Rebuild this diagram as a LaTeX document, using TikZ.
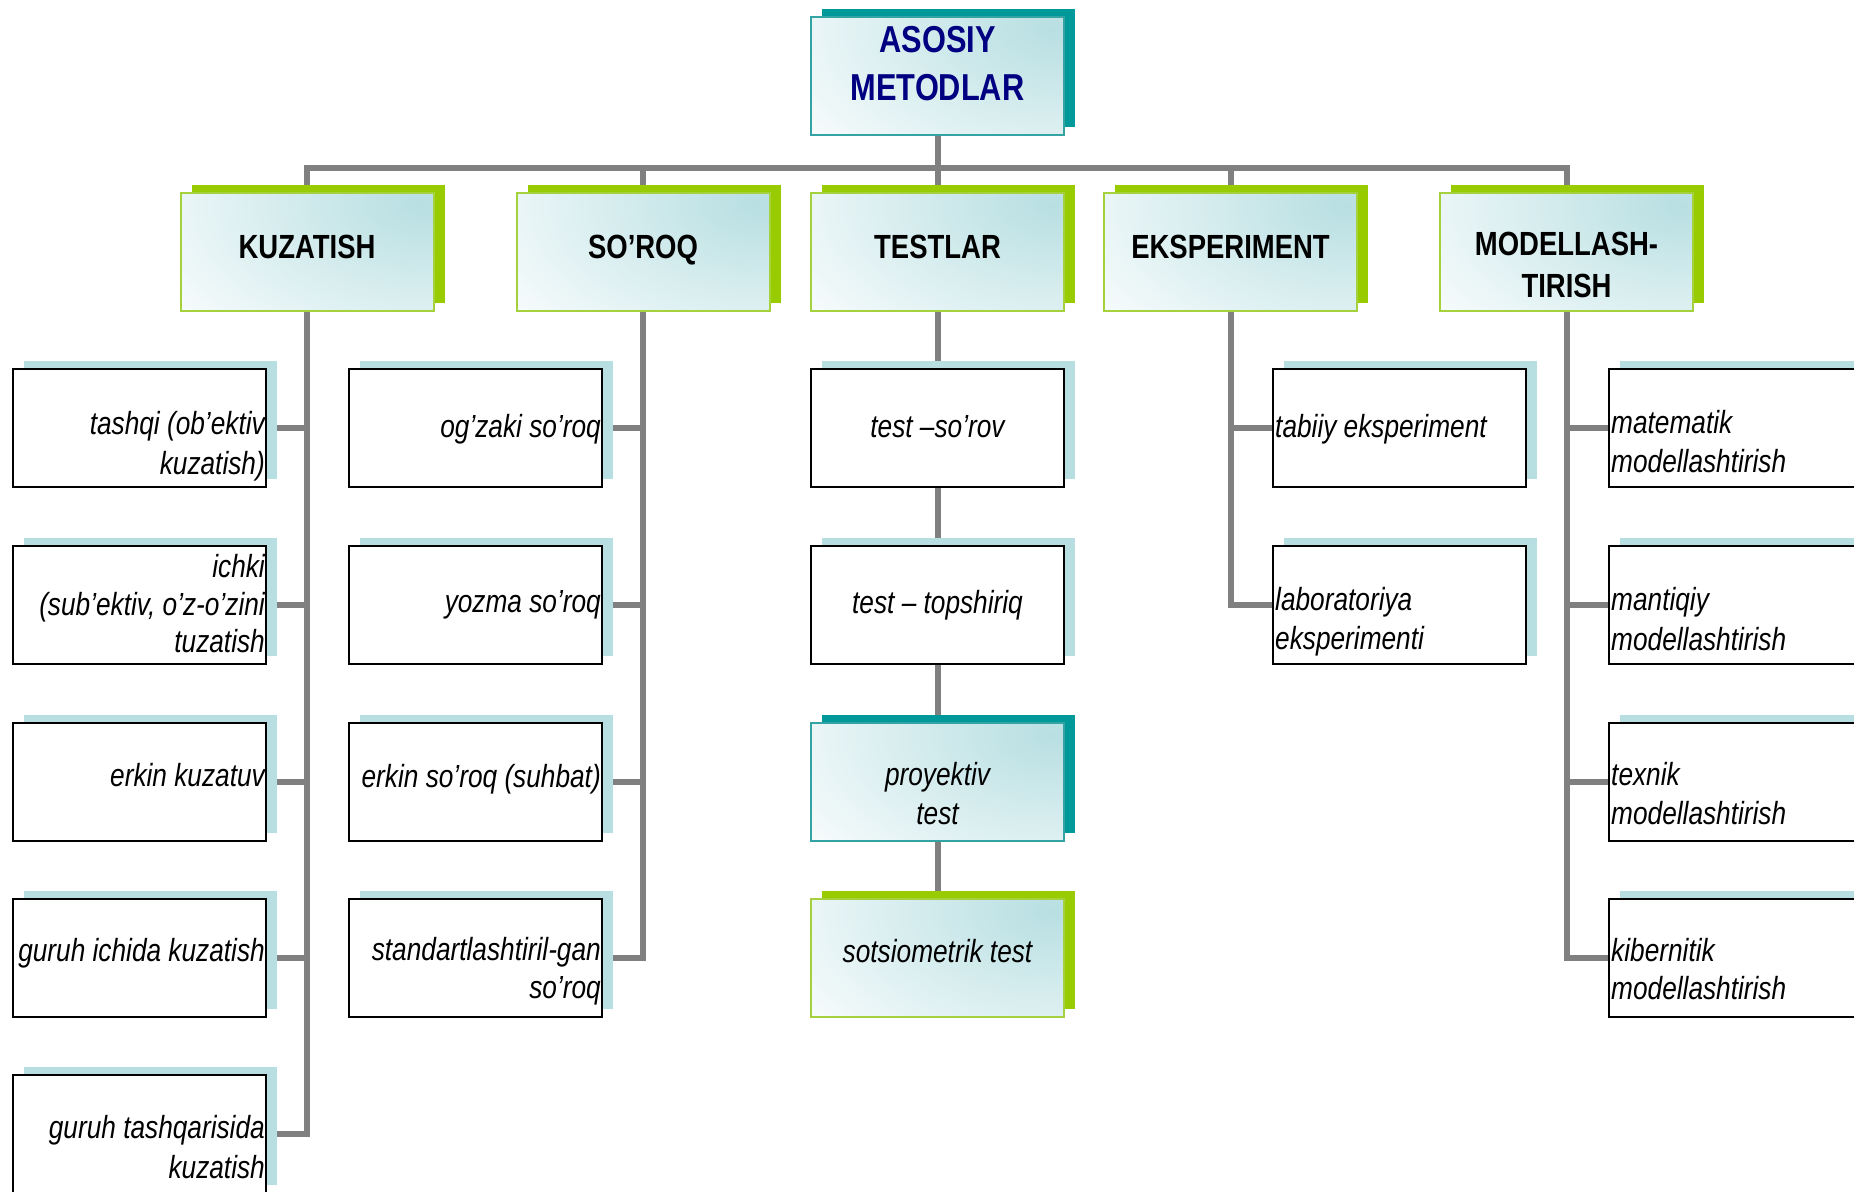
\documentclass[tikz,border=0pt]{standalone}
\usepackage{fontspec}
\setmainfont{Liberation Sans}[FakeStretch=0.82]
\usetikzlibrary{calc}
\definecolor{conn}{RGB}{128,128,128}
\definecolor{shteal}{RGB}{0,153,153}
\definecolor{shgreen}{RGB}{153,204,0}
\definecolor{shlight}{RGB}{183,222,224}
\definecolor{gradc}{RGB}{184,223,226}
\definecolor{bgreen}{RGB}{165,210,60}
\definecolor{bteal}{RGB}{51,163,163}
\definecolor{rootblue}{RGB}{0,0,128}
\pgfdeclarelayer{background}
\pgfdeclarelayer{shadowlayer}
\pgfsetlayers{background,shadowlayer,main}
\newcommand\boxshade[2]{%
  \begin{pgfonlayer}{shadowlayer}
    \fill[#2] ($(#1.south west)+(11,-8)$) rectangle ($(#1.north east)+(11,-8)$);
  \end{pgfonlayer}}
\begin{document}
\begin{tikzpicture}[x=1pt,y=-1pt,
  box/.style={rectangle, minimum width=253pt, minimum height=118pt, inner sep=0pt, outer sep=0pt},
  plain/.style={box, draw=black, line width=2pt, fill=white},
  grad/.style={box, fill=white, line width=2pt,
    path picture={\shade[inner color=gradc, outer color=white]
      ([xshift=-12pt,yshift=-12pt]path picture bounding box.north east) ellipse [x radius=340pt, y radius=200pt];}},
  lvlone/.style={grad, draw=bgreen},
  tealbox/.style={grad, draw=bteal},
  link/.style={draw=conn, line width=6pt, line join=miter},
  lab/.style={inner sep=0pt, font=\fontsize{32}{38}\selectfont\itshape},
  head/.style={inner sep=0pt, font=\fontsize{33.5}{40}\selectfont\bfseries},
  roottext/.style={inner sep=0pt, text=rootblue, font=\fontsize{37.5}{48}\selectfont\bfseries}]
\useasboundingbox (0,0) rectangle (1854,1191);

% ---------- boxes ----------
\node[tealbox] (root) at (937.5,76) {};
\node[lvlone] (kuz) at (307,252) {};
\node[lvlone] (sor) at (643,252) {};
\node[lvlone] (tes) at (937.5,252) {};
\node[lvlone] (eks) at (1230.5,252) {};
\node[lvlone] (mod) at (1566.5,252) {};

\node[plain] (k1) at (139.5,428) {};
\node[plain] (k2) at (139.5,605) {};
\node[plain] (k3) at (139.5,782) {};
\node[plain] (k4) at (139.5,958) {};
\node[plain] (k5) at (139.5,1134) {};

\node[plain] (s1) at (475.5,428) {};
\node[plain] (s2) at (475.5,605) {};
\node[plain] (s3) at (475.5,782) {};
\node[plain] (s4) at (475.5,958) {};

\node[plain] (t1) at (937.5,428) {};
\node[plain] (t2) at (937.5,605) {};
\node[tealbox] (t3) at (937.5,782) {};
\node[lvlone] (t4) at (937.5,958) {};

\node[plain] (e1) at (1399.5,428) {};
\node[plain] (e2) at (1399.5,605) {};

\node[plain] (m1) at (1735.5,428) {};
\node[plain] (m2) at (1735.5,605) {};
\node[plain] (m3) at (1735.5,782) {};
\node[plain] (m4) at (1735.5,958) {};

% ---------- shadows ----------
\boxshade{root}{shteal}
\foreach \n in {kuz,sor,tes,eks,mod,t4} {\boxshade{\n}{shgreen}}
\boxshade{t3}{shteal}
\foreach \n in {k1,k2,k3,k4,k5,s1,s2,s3,s4,t1,t2,e1,e2,m1,m2,m3,m4} {\boxshade{\n}{shlight}}

% ---------- connectors ----------
\begin{pgfonlayer}{background}
  \coordinate (bus) at (0,168);
  \draw[link] (root.south) -- (root.south |- bus);
  \draw[link] (kuz.north) -- (kuz.north |- bus) -- (mod.north |- bus) -- (mod.north);
  \draw[link] (sor.north) -- (sor.north |- bus);
  \draw[link] (tes.north) -- (tes.north |- bus);
  \draw[link] (eks.north) -- (eks.north |- bus);
  % KUZATISH
  \draw[link] (kuz.south) -- (kuz.south |- k5.east) -- (k5.east);
  \foreach \n in {k1,k2,k3,k4} {\draw[link] (\n.east) -- (\n.east -| kuz.south);}
  % SO'ROQ
  \draw[link] (sor.south) -- (sor.south |- s4.east) -- (s4.east);
  \foreach \n in {s1,s2,s3} {\draw[link] (\n.east) -- (\n.east -| sor.south);}
  % TESTLAR
  \draw[link] (tes.south) -- (t1.north);
  \draw[link] (t1.south) -- (t2.north);
  \draw[link] (t2.south) -- (t3.north);
  \draw[link] (t3.south) -- (t4.north);
  % EKSPERIMENT
  \draw[link] (eks.south) -- (eks.south |- e2.west) -- (e2.west);
  \draw[link] (e1.west) -- (e1.west -| eks.south);
  % MODELLASHTIRISH
  \draw[link] (mod.south) -- (mod.south |- m4.west) -- (m4.west);
  \foreach \n in {m1,m2,m3} {\draw[link] (\n.west) -- (\n.west -| mod.south);}
\end{pgfonlayer}

% ---------- texts ----------
\node[roottext, anchor=base] (roota) at (937.5,52) {ASOSIY};
\node[roottext, anchor=base] (rootb) at (937.5,100) {METODLAR};

\node[head, anchor=base] (kuzt) at (307,258) {KUZATISH};
\node[head, anchor=base] (sort) at (643,258) {SO’ROQ};
\node[head, anchor=base] (test) at (937.5,258) {TESTLAR};
\node[head, anchor=base] (ekst) at (1230.5,258) {EKSPERIMENT};
\node[head, anchor=base] (moda) at (1566.5,255) {MODELLASH-};
\node[head, anchor=base] (modb) at (1566.5,297) {TIRISH};

% KUZATISH items
\node[lab, anchor=base east] (k1a) at (265,434) {tashqi (ob’ektiv};
\node[lab, anchor=base east] (k1b) at (265,474) {kuzatish)};
\node[lab, anchor=base east] (k2a) at (265,577) {ichki};
\node[lab, anchor=base east] (k2b) at (265,615) {(sub’ektiv, o’z-o’zini};
\node[lab, anchor=base east] (k2c) at (265,652) {tuzatish};
\node[lab, anchor=base east] (k3a) at (265,786) {erkin kuzatuv};
\node[lab, anchor=base east] (k4a) at (265,961) {guruh ichida kuzatish};
\node[lab, anchor=base east] (k5a) at (265,1138) {guruh tashqarisida};
\node[lab, anchor=base east] (k5b) at (265,1178) {kuzatish};

% SO'ROQ items
\node[lab, anchor=base east] (s1a) at (601,437) {og’zaki so’roq};
\node[lab, anchor=base east] (s2a) at (601,612) {yozma so’roq};
\node[lab, anchor=base east] (s3a) at (601,787) {erkin so’roq (suhbat)};
\node[lab, anchor=base east] (s4a) at (601,960) {standartlashtiril-gan};
\node[lab, anchor=base east] (s4b) at (601,998) {so’roq};

% TESTLAR items
\node[lab, anchor=base] (t1a) at (937.5,437) {test –so’rov};
\node[lab, anchor=base] (t2a) at (937.5,613) {test – topshiriq};
\node[lab, anchor=base] (t3a) at (937.5,785) {proyektiv};
\node[lab, anchor=base] (t3b) at (937.5,824) {test};
\node[lab, anchor=base] (t4a) at (937.5,962) {sotsiometrik test};

% EKSPERIMENT items
\node[lab, anchor=base west] (e1a) at (1275,437) {tabiiy eksperiment};
\node[lab, anchor=base west] (e2a) at (1275,610) {laboratoriya};
\node[lab, anchor=base west] (e2b) at (1275,649) {eksperimenti};

% MODELLASHTIRISH items
\node[lab, anchor=base west] (m1a) at (1611,433) {matematik};
\node[lab, anchor=base west] (m1b) at (1611,472) {modellashtirish};
\node[lab, anchor=base west] (m2a) at (1611,610) {mantiqiy};
\node[lab, anchor=base west] (m2b) at (1611,650) {modellashtirish};
\node[lab, anchor=base west] (m3a) at (1611,785) {texnik};
\node[lab, anchor=base west] (m3b) at (1611,824) {modellashtirish};
\node[lab, anchor=base west] (m4a) at (1611,961) {kibernitik};
\node[lab, anchor=base west] (m4b) at (1611,999) {modellashtirish};
\end{tikzpicture}
\end{document}
